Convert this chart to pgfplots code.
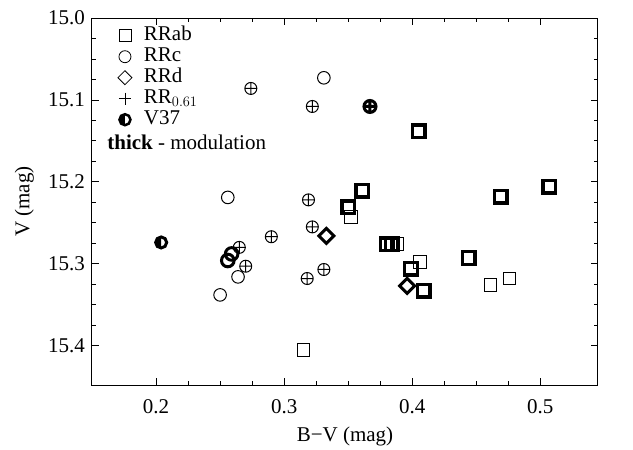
\documentclass[border=0pt]{standalone}
\usepackage{fontspec}
\setmainfont{Liberation Serif}
\usepackage{pgfplots}
\pgfplotsset{compat=1.18}
\pgfdeclareplotmark{halfcirc}{%
  \pgfpathcircle{\pgfpointorigin}{\pgfplotmarksize}\pgfusepathqstroke
  \pgfpathmoveto{\pgfqpoint{0pt}{\pgfplotmarksize}}%
  \pgfpatharc{90}{270}{\pgfplotmarksize}%
  \pgfpathclose\pgfusepathqfill}
\pgfdeclareplotmark{dia}{%
  \pgfpathmoveto{\pgfqpoint{0pt}{\pgfplotmarksize}}%
  \pgfpathlineto{\pgfqpoint{\pgfplotmarksize}{0pt}}%
  \pgfpathlineto{\pgfqpoint{0pt}{-\pgfplotmarksize}}%
  \pgfpathlineto{\pgfqpoint{-\pgfplotmarksize}{0pt}}%
  \pgfpathclose\pgfusepathqstroke}
\begin{document}
\fontsize{21}{25}\selectfont
\begin{tikzpicture}
\useasboundingbox (-92pt,-65pt) rectangle (541pt,385pt);
\begin{axis}[
  at={(0pt,0pt)}, anchor=south west,
  width=506pt, height=367pt, scale only axis,
  xmin=0.15, xmax=0.545, ymin=15, ymax=15.448, y dir=reverse,
  xtick={0.2,0.3,0.4,0.5}, ytick={15,15.1,15.2,15.3,15.4},
  minor tick num=3, tick align=inside,
  major tick length=7pt, minor tick length=4pt,
  every tick/.style={black, line width=0.8pt},
  axis line style={line width=1pt},
  /pgf/number format/assume math mode=true,
  xticklabel style={/pgf/number format/fixed, /pgf/number format/precision=1, font=\fontsize{21}{25}\selectfont, yshift=-7pt},
  yticklabel style={/pgf/number format/fixed, /pgf/number format/fixed zerofill, /pgf/number format/precision=1, font=\fontsize{21}{25}\selectfont},
  xlabel={B−V (mag)}, ylabel={V (mag)},
  label style={font=\fontsize{21}{25}\selectfont},
  xlabel style={yshift=1pt},
  legend style={draw=none, fill=none, at={(axis description cs:0.045,0.985)}, anchor=north west,
    font=\fontsize{21}{25}\selectfont, row sep=1pt,
    nodes={inner sep=1pt, text height=14pt, text depth=4pt},
    /tikz/every odd column/.append style={column sep=11pt}},
  legend cell align=left,
]
\addlegendimage{only marks, mark=square, mark size=6pt, line width=0.8pt}
\addlegendentry{RRab}
\addlegendimage{only marks, mark=o, mark size=6pt, line width=0.8pt}
\addlegendentry{RRc}
\addlegendimage{only marks, mark=dia, mark size=7pt, line width=0.8pt}
\addlegendentry{RRd}
\addlegendimage{only marks, mark=+, mark size=6pt, line width=0.8pt}
\addlegendentry{RR$_{0.61}$}
\addlegendimage{only marks, mark=halfcirc, mark size=5.5pt, line width=2.5pt}
\addlegendentry{V37}

% RRab thin
\addplot[forget plot, only marks, mark=square, mark size=6.3pt, line width=1pt] coordinates {
 (0.315,15.405) (0.352,15.243) (0.406,15.298) (0.461,15.326) (0.476,15.318) (0.388,15.276)};
% RRab thick
\addplot[forget plot, only marks, mark=square, mark size=6.3pt, line width=3.5pt] coordinates {
 (0.405,15.138) (0.361,15.211) (0.350,15.231) (0.507,15.206) (0.469,15.218)
 (0.384,15.276) (0.380,15.276) (0.444,15.293) (0.399,15.306) (0.409,15.333)};
% RRc thin
\addplot[forget plot, only marks, mark=o, mark size=6.3pt, line width=1pt] coordinates {
 (0.331,15.073) (0.256,15.219) (0.264,15.316) (0.250,15.338)};
% RR0.61 thin
\addplot[forget plot, only marks, mark=oplus, mark size=6pt, line width=1pt] coordinates {
 (0.274,15.086) (0.322,15.108) (0.319,15.222) (0.322,15.255) (0.290,15.267)
 (0.265,15.280) (0.270,15.303) (0.331,15.307) (0.318,15.318)};
% RRc thick
\addplot[forget plot, only marks, mark=o, mark size=6.3pt, line width=3pt] coordinates {
 (0.259,15.288) (0.256,15.296)};
% RRd thick
\addplot[forget plot, only marks, mark=dia, mark size=7.5pt, line width=3pt] coordinates {
 (0.333,15.266) (0.396,15.327)};
% RR0.61 thick
\addplot[forget plot, only marks, mark=oplus, mark size=6pt, line width=3pt] coordinates {
 (0.367,15.108)};
% V37
\addplot[forget plot, only marks, mark=halfcirc, mark size=5.5pt, line width=3pt] coordinates {
 (0.204,15.274)};
\node[anchor=west, inner sep=0pt] at (axis description cs:0.03,0.66) {\textbf{thick} - modulation};
\end{axis}
\end{tikzpicture}
\end{document}
